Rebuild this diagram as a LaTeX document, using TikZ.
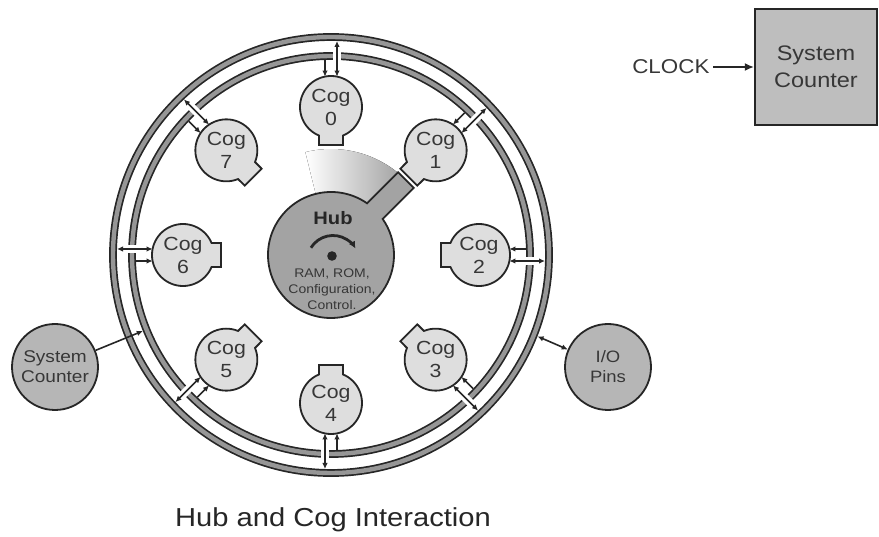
\documentclass[tikz,border=0pt]{standalone}
\usepackage{fontspec}
\setmainfont{Liberation Sans}[FakeStretch=1.12]
\usetikzlibrary{arrows.meta,calc}
\definecolor{ink}{RGB}{38,38,38}
\definecolor{cogfill}{RGB}{222,222,222}
\definecolor{hubfill}{RGB}{163,163,163}
\definecolor{extfill}{RGB}{182,182,182}
\definecolor{boxfill}{RGB}{190,190,190}
\definecolor{bandfill}{RGB}{150,150,150}
\definecolor{txt}{RGB}{55,55,55}
\begin{document}
\begin{tikzpicture}[x=1pt,y=1pt,
  band/.style={draw=ink, line width=1.7pt, double=bandfill, double distance=4.4pt},
  cogshape/.style={draw=ink, line width=1.8pt, fill=cogfill},
  cogtext/.style={circle, minimum size=62pt, inner sep=0pt, align=center, font=\fontsize{19}{23}\selectfont, text=txt},
  conn/.style={draw=ink, line width=1.6pt},
  arrowone/.style={-{Latex[length=6pt,width=5.5pt]}},
  arrowtwo/.style={{Latex[length=6pt,width=5.5pt]}-{Latex[length=6pt,width=5.5pt]}},
  extcircle/.style={circle, draw=ink, line width=1.8pt, fill=extfill, minimum size=86pt, inner sep=0pt, align=center, text=txt},
]
\useasboundingbox (0,0) rectangle (879,536);
\coordinate (O) at (331,281);
% rings
\draw[band] (O) circle[radius=218];
\draw[band] (O) circle[radius=199];
% rotating sweep
\fill[left color=white, middle color=black!9, right color=black!38] (O) -- ($(O)+(45:106)$) arc[start angle=45, end angle=104, radius=106] -- cycle;
% hub with arm
\begin{scope}[shift={(O)}, rotate=45]
\draw[draw=ink, line width=1.8pt, fill=hubfill] (10.06:63) arc[start angle=10.06, end angle=349.94, radius=63] -- (106,-11) -- (106,11) -- cycle;
\end{scope}
\node[circle, minimum size=126pt, inner sep=0pt] (hub) at (O) {};
\node[font=\fontsize{18}{20}\selectfont\bfseries, text=ink] (hubt) at ($(O)+(2,37)$) {Hub};
\draw[line width=2.8pt, ink, -{Latex[length=7pt,width=7pt]}] ($(O)+(2,-6.5)+(148:26)$) arc[start angle=148, end angle=30, radius=26];
\fill[ink] ($(O)+(1,-1)$) circle[radius=4.8];
\node[align=center, font=\fontsize{12.5}{16}\selectfont, text=txt] (hubinfo) at ($(O)+(1,-34)$) {RAM, ROM,\\Configuration,\\Control.};
% cogs
\foreach \k in {0,...,7} {
  \pgfmathsetmacro{\a}{90-45*\k}
  \coordinate (c\k) at ($(O)+(\a:148)$);
  \begin{scope}[shift={(c\k)}, rotate=\a+180]
    \draw[cogshape] (22.8:31) arc[start angle=22.8, end angle=337.2, radius=31] -- (38,-12) -- (38,12) -- cycle;
  \end{scope}
  \node[cogtext] (cog\k) at (c\k) {Cog\\\k};
  \coordinate (sA\k) at ($(O)+(\a:195)+(\a+90:6)$);
  \coordinate (sB\k) at ($(O)+(\a:178.4)+(\a+90:6)$);
  \coordinate (gA\k) at ($(O)+(\a:194)+(\a-90:6)$);
  \coordinate (gB\k) at ($(O)+(\a:204)+(\a-90:6)$);
  \coordinate (dA\k) at ($(O)+(\a:178.4)+(\a-90:6)$);
  \coordinate (dB\k) at ($(O)+(\a:214)+(\a-90:6)$);
  \draw[conn, arrowone] (sA\k) -- (sB\k);
  \draw[white, line width=8pt] (gA\k) -- (gB\k);
  \draw[conn, arrowtwo] (dA\k) -- (dB\k);
}
% external circles
\node[extcircle, font=\fontsize{17}{20}\selectfont] (sysc) at (55,169) {System\\Counter};
\coordinate (sysT) at ($(O)+(202:203)$);
\draw[conn, arrowone] (sysc) -- (sysT);
\node[extcircle, font=\fontsize{16.5}{20}\selectfont] (io) at (608,169) {I/O\\Pins};
\coordinate (ioT) at ($(O)+(-21.5:222)$);
\draw[conn, arrowtwo] (io) -- (ioT);
% system counter box
\node[draw=ink, line width=2.2pt, fill=boxfill, minimum width=122pt, minimum height=116pt, inner sep=0pt, align=center, font=\fontsize{21}{27}\selectfont, text=txt] (box) at (816,469) {System\\Counter};
\node[font=\fontsize{20}{24}\selectfont, text=txt, anchor=east] (clk) at (713,469) {CLOCK};
\draw[conn, -{Latex[length=9pt,width=8pt]}] (clk.east) -- (box.west);
% caption
\node[font=\fontsize{26}{30}\selectfont, text=ink] (cap) at (333,16) {Hub and Cog Interaction};
\end{tikzpicture}
\end{document}
